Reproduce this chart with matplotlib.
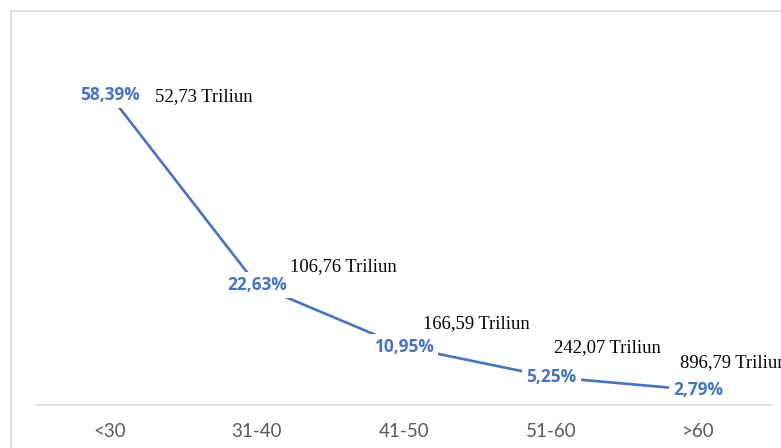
import matplotlib
matplotlib.use("Agg")
import matplotlib.pyplot as plt
from matplotlib.patches import Rectangle

categories = ["<30", "31-40", "41-50", "51-60", ">60"]
percent_values = [58.39, 22.63, 10.95, 5.25, 2.79]
triliun_labels = ["52,73 Triliun", "106,76 Triliun", "166,59 Triliun", "242,07 Triliun", "896,79 Triliun"]

# label offsets (points) for the secondary labels, relative to each data point
triliun_offsets = [(33, -1), (24, 13.5), (14, 17), (2, 21.5), (-13, 20)]

fig = plt.figure(figsize=(7.81, 4.48), dpi=100)
fig.patch.set_facecolor("white")

# outer chart border (partially cropped)
fig.add_artist(Rectangle((11 / 781, -0.2), 1.2, 1.2 - 11 / 448,
                         transform=fig.transFigure, fill=False,
                         edgecolor="#d9d9d9", linewidth=1.2))

ax = fig.add_axes([36 / 781, 43 / 448, (772 - 36) / 781, (405 - 33.4) / 448])
ax.set_facecolor("none")
x = list(range(len(categories)))
ax.plot(x, percent_values, color="#4472C4", linewidth=1.9, zorder=2,
        solid_capstyle="butt")
ax.set_xlim(-0.5, len(categories) - 0.5)
ax.set_ylim(0, 70)

for s in ["top", "right", "left"]:
    ax.spines[s].set_visible(False)
ax.spines["bottom"].set_color("#d9d9d9")
ax.spines["bottom"].set_linewidth(1.2)
ax.set_yticks([])
ax.set_xticks(x)
ax.set_xticklabels(categories, fontfamily="Lato", fontsize=13.5, color="#595959")
ax.tick_params(axis="x", length=0, pad=13)

for xi, v, lab, off in zip(x, percent_values, triliun_labels, triliun_offsets):
    ax.annotate(f"{v:.2f}".replace(".", ",") + "%", (xi, v), ha="center", va="center",
                fontfamily="Open Sans", fontweight="bold", fontsize=12.4, color="#4472C4",
                bbox=dict(boxstyle="square,pad=0.25", fc="white", ec="none"), zorder=5,
                annotation_clip=False)
    ax.annotate(lab, (xi, v), xytext=off, textcoords="offset points",
                ha="left", va="center", fontfamily="Liberation Serif", fontsize=13.4,
                color="black", zorder=6, annotation_clip=False)

fig.savefig("out.png", dpi=100)
